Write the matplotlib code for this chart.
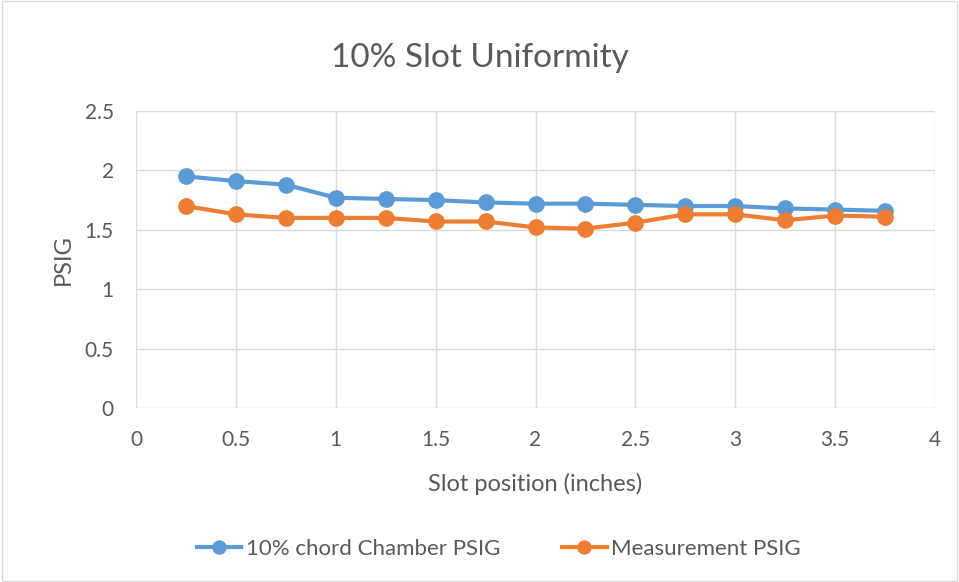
import matplotlib
matplotlib.use("Agg")
import matplotlib.pyplot as plt

# slot positions (inches)
positions = [0.25, 0.5, 0.75, 1.0, 1.25, 1.5, 1.75, 2.0, 2.25, 2.5, 2.75, 3.0, 3.25, 3.5, 3.75]
chamber_psig = [1.95, 1.91, 1.88, 1.77, 1.76, 1.75, 1.73, 1.72, 1.72, 1.71, 1.70, 1.70, 1.68, 1.67, 1.66]
measured_psig = [1.70, 1.63, 1.60, 1.60, 1.60, 1.57, 1.57, 1.52, 1.51, 1.56, 1.63, 1.63, 1.58, 1.62, 1.61]

blue = "#5b9bd5"
orange = "#ed7d31"
grey = "#595959"

plt.rcParams["font.family"] = ["Lato", "DejaVu Sans"]

fig = plt.figure(figsize=(9.59, 5.82), dpi=100)
ax = fig.add_axes([136 / 959, 1 - 408 / 582, (935 - 136) / 959, (408 - 111) / 582])

ax.plot(positions, chamber_psig, color=blue, lw=3, marker="o", ms=11,
        label="10% chord Chamber PSIG", zorder=3)
ax.plot(positions, measured_psig, color=orange, lw=3, marker="o", ms=11,
        label="Measurement PSIG", zorder=3)

ax.set_xlim(0, 4)
ax.set_ylim(0, 2.5)
ax.set_xticks([0, 0.5, 1, 1.5, 2, 2.5, 3, 3.5, 4])
ax.set_xticklabels(["0", "0.5", "1", "1.5", "2", "2.5", "3", "3.5", "4"])
ax.set_yticks([0, 0.5, 1, 1.5, 2, 2.5])
ax.set_yticklabels(["0", "0.5", "1", "1.5", "2", "2.5"])
ax.grid(True, color="#d9d9d9", lw=1)
ax.set_axisbelow(True)
for s in ax.spines.values():
    s.set_visible(False)
ax.tick_params(length=0, labelsize=15, colors=grey)
ax.tick_params(axis="x", pad=16)
ax.tick_params(axis="y", pad=16)

ax.set_xlabel("Slot position (inches)", fontsize=17, color=grey, labelpad=16)
ax.set_ylabel("PSIG", fontsize=17, color=grey, labelpad=8)
fig.text(0.5, 1 - 58 / 582, "10% Slot Uniformity", ha="center", va="center",
         fontsize=24, color=grey)

fig.legend(loc="center", bbox_to_anchor=(0.52, 1 - 549 / 582), ncol=2, frameon=False,
           fontsize=16, labelcolor=grey, handlelength=2.0, handletextpad=0.2,
           columnspacing=2.8, markerscale=0.85)

# outer chart border
fig.patches.append(plt.Rectangle((0.002, 0.002), 0.996, 0.996, transform=fig.transFigure,
                                 fill=False, edgecolor="#d9d9d9", lw=1))

fig.savefig("out.png", dpi=100)
